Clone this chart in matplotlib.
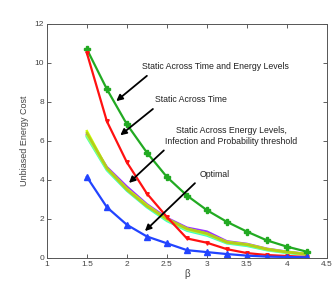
import numpy as np
import matplotlib
matplotlib.use("Agg")
import matplotlib.pyplot as plt

plt.rcParams['font.family'] = ['Liberation Sans', 'DejaVu Sans']

beta = [1.5, 1.75, 2.0, 2.25, 2.5, 2.75, 3.0, 3.25, 3.5, 3.75, 4.0, 4.25]

static_time_energy = [10.7, 8.65, 6.85, 5.4, 4.15, 3.2, 2.45, 1.85, 1.35, 0.9, 0.58, 0.32]
static_time = [10.5, 7.0, 4.9, 3.3, 2.1, 1.0, 0.78, 0.45, 0.25, 0.15, 0.1, 0.05]
optimal = [4.15, 2.6, 1.7, 1.1, 0.75, 0.4, 0.3, 0.2, 0.12, 0.07, 0.05, 0.03]

# band of threshold variants
band_purple = [6.3, 4.65, 3.65, 2.75, 2.05, 1.55, 1.35, 0.85, 0.72, 0.47, 0.32, 0.2]
band_cyan = [6.2, 4.5, 3.45, 2.6, 1.9, 1.4, 1.15, 0.75, 0.62, 0.4, 0.26, 0.17]
band_lgreen = [6.25, 4.55, 3.5, 2.65, 1.95, 1.45, 1.2, 0.78, 0.66, 0.42, 0.28, 0.18]
band_yellow = [6.5, 4.6, 3.55, 2.7, 2.0, 1.5, 1.25, 0.82, 0.7, 0.46, 0.31, 0.2]
band_olive = [6.4, 4.6, 3.5, 2.65, 2.0, 1.5, 1.25, 0.8, 0.68, 0.45, 0.3, 0.19]

fig = plt.figure(figsize=(3.35, 2.81), dpi=100)
ax = fig.add_axes([0.14, 0.082, 0.836, 0.833])

ax.plot(beta, band_purple, color='#9933ff', lw=1.8)
ax.plot(beta, band_cyan, color='#33ffcc', lw=1.8)
ax.plot(beta, band_lgreen, color='#99ff66', lw=1.8)
ax.plot(beta, band_yellow, color='#ccff00', lw=1.8)
ax.plot(beta, band_olive, color='#b3cc1a', lw=1.8)
ax.plot(beta, static_time_energy, color='#22aa22', lw=1.6, marker='P', ms=4.5)
ax.plot(beta, static_time, color='#ff1111', lw=1.6, marker='v', ms=2.5)
ax.plot(beta, optimal, color='#2244ff', lw=1.6, marker='^', ms=4)

ax.set_xlim(1, 4.5)
ax.set_ylim(0, 12)
ax.set_xticks([1, 1.5, 2, 2.5, 3, 3.5, 4, 4.5])
ax.set_xticklabels(['1', '1.5', '2', '2.5', '3', '3.5', '4', '4.5'])
ax.set_yticks([0, 2, 4, 6, 8, 10, 12])
ax.tick_params(direction='in', top=True, right=True, labelsize=6, length=3, width=0.6, colors='#444444', pad=2)
for s in ax.spines.values():
    s.set_linewidth(0.7)
    s.set_color('#555555')
ax.set_xlabel('β', fontsize=7, labelpad=1, color='#444444')
ax.set_ylabel('Unbiased Energy Cost', fontsize=6.5, labelpad=4, color='#444444')

arrow = dict(arrowstyle='-|>', color='black', lw=1.3, mutation_scale=9)
ax.annotate('Static Across Time and Energy Levels', xy=(1.84, 7.95), xytext=(2.19, 9.8),
            fontsize=6.3, ha='left', va='center', color='#222222',
            arrowprops=dict(arrow, relpos=(0.07, 0)))
ax.annotate('Static Across Time', xy=(1.89, 6.2), xytext=(2.35, 8.1),
            fontsize=6.3, ha='left', va='center', color='#222222',
            arrowprops=dict(arrow, relpos=(0.05, 0)))
ax.annotate('Static Across Energy Levels,\nInfection and Probability threshold', xy=(2.0, 3.75),
            xytext=(3.3, 6.25), fontsize=6.3, ha='center', va='center', color='#222222',
            arrowprops=dict(arrow, relpos=(0.03, 0.0)))
ax.annotate('Optimal', xy=(2.2, 1.28), xytext=(2.91, 4.3),
            fontsize=6.3, ha='left', va='center', color='#222222',
            arrowprops=dict(arrow, relpos=(0.0, 0.0)))

fig.savefig('out.png', dpi=100)
